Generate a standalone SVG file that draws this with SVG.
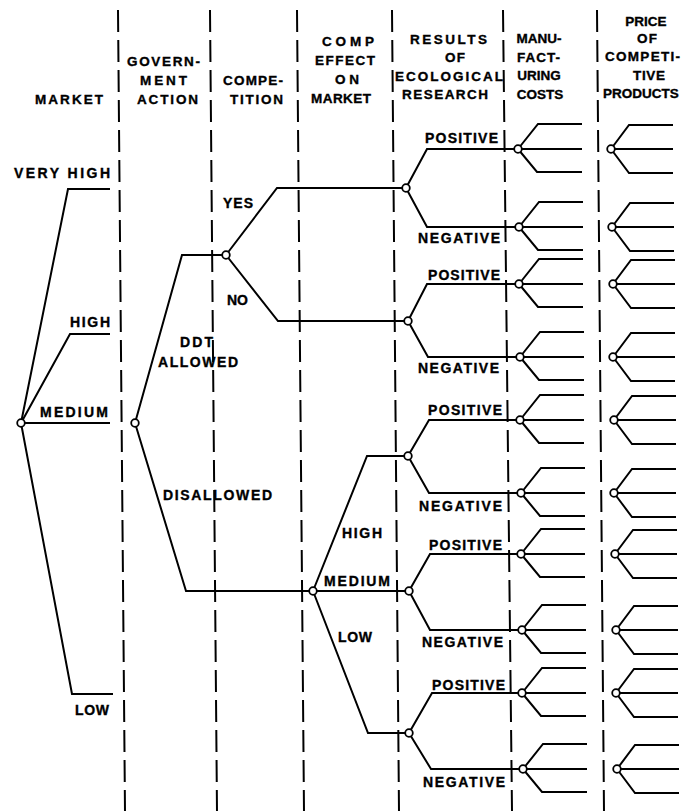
<svg xmlns="http://www.w3.org/2000/svg" width="695" height="811" viewBox="0 0 695 811">
<style>
.col line{stroke:#000;stroke-width:2;stroke-dasharray:22 8}
.edge path,.edge use{fill:none;stroke:#000;stroke-width:2;stroke-linejoin:miter}
.node circle{fill:#fff;stroke:#000;stroke-width:1.8}
text{font-family:"Liberation Sans",Arial,sans-serif;font-weight:bold;font-size:13.5px;fill:#000;stroke:#000;stroke-width:0.35}
.lbl text{font-size:14px}
.mid{text-anchor:middle}
</style>
<defs>
<path id="fanM" d="M0,0 L20,-25 H64 M0,0 H64 M0,0 L19,23 H64"/>
<path id="fanP" d="M0,0 L18,-24 H62 M0,0 H62 M0,0 L18,24 H62"/>
</defs>
<rect width="695" height="811" fill="#fff"/>
<g id="columns" class="col">
<line x1="118" y1="10" x2="125" y2="811"/>
<line x1="210" y1="10" x2="217" y2="811"/>
<line x1="297" y1="10" x2="304" y2="811"/>
<line x1="392" y1="10" x2="399" y2="811"/>
<line x1="503" y1="10" x2="512" y2="811"/>
<line x1="597" y1="10" x2="604" y2="811"/>
</g>
<g id="headers">
<text x="35" y="104" textLength="68" lengthAdjust="spacing">MARKET</text>
<text x="127" y="66" textLength="73" lengthAdjust="spacing">GOVERN-</text>
<text x="140" y="85" textLength="47" lengthAdjust="spacing">MENT</text>
<text x="137" y="104" textLength="61" lengthAdjust="spacing">ACTION</text>
<text x="223" y="85" textLength="60" lengthAdjust="spacing">COMPE-</text>
<text x="230" y="104" textLength="53" lengthAdjust="spacing">TITION</text>
<text x="322" y="46" textLength="52" lengthAdjust="spacing">COMP</text>
<text x="315" y="65" textLength="60" lengthAdjust="spacing">EFFECT</text>
<text x="335" y="84" textLength="24" lengthAdjust="spacing">ON</text>
<text x="311" y="103" textLength="60" lengthAdjust="spacing">MARKET</text>
<text x="410" y="44" textLength="77" lengthAdjust="spacing">RESULTS</text>
<text x="445" y="62" textLength="20" lengthAdjust="spacing">OF</text>
<text x="395" y="81" textLength="108" lengthAdjust="spacing">ECOLOGICAL</text>
<text x="402" y="99" textLength="86" lengthAdjust="spacing">RESEARCH</text>
<text class="mid" x="539" y="43">MANU-</text>
<text x="517" y="62" textLength="43" lengthAdjust="spacing">FACT-</text>
<text class="mid" x="539" y="80">URING</text>
<text class="mid" x="540" y="99">COSTS</text>
<text class="mid" x="646" y="26">PRICE</text>
<text x="637" y="43" textLength="20" lengthAdjust="spacing">OF</text>
<text x="605" y="61" textLength="75" lengthAdjust="spacing">COMPETI-</text>
<text x="633" y="80" textLength="32" lengthAdjust="spacing">TIVE</text>
<text class="mid" x="641" y="98">PRODUCTS</text>
</g>
<g id="connectors" class="edge">
<path d="M21,423 L68,189 H110"/>
<path d="M21,423 L70,334 H110"/>
<path d="M21,423 H110"/>
<path d="M21,423 L72,694 H113"/>
<path d="M135,423 L182,255 H226"/>
<path d="M135,423 L186,591 H313"/>
<path d="M226,255 L277,188 H406"/>
<path d="M226,255 L278,321 H408"/>
<path d="M313,591 L367,456 H408"/>
<path d="M313,591 H409"/>
<path d="M313,591 L368,733 H409"/>
<path d="M406,188 L427,149 H518"/>
<path d="M406,188 L427,227 H519"/>
<path d="M408,321 L427,284 H519"/>
<path d="M408,321 L428,357 H520"/>
<path d="M408,456 L429,420 H520"/>
<path d="M408,456 L429,493 H521"/>
<path d="M409,591 L430,554 H521"/>
<path d="M409,591 L430,630 H522"/>
<path d="M409,733 L432,693 H522"/>
<path d="M409,733 L431,769 H523"/>
<use href="#fanM" x="518" y="149"/>
<use href="#fanM" x="519" y="227"/>
<use href="#fanM" x="519" y="284"/>
<use href="#fanM" x="520" y="357"/>
<use href="#fanM" x="520" y="420"/>
<use href="#fanM" x="521" y="493"/>
<use href="#fanM" x="521" y="554"/>
<use href="#fanM" x="522" y="630"/>
<use href="#fanM" x="522" y="693"/>
<use href="#fanM" x="523" y="769"/>
<use href="#fanP" x="611" y="149"/>
<use href="#fanP" x="612" y="227"/>
<use href="#fanP" x="613" y="284"/>
<use href="#fanP" x="613" y="357"/>
<use href="#fanP" x="614" y="420"/>
<use href="#fanP" x="614" y="493"/>
<use href="#fanP" x="615" y="554"/>
<use href="#fanP" x="616" y="630"/>
<use href="#fanP" x="616" y="693"/>
<use href="#fanP" x="617" y="769"/>
</g>
<g id="labels" class="lbl">
<text x="14" y="178" textLength="96" lengthAdjust="spacing">VERY HIGH</text>
<text x="70" y="327" textLength="40" lengthAdjust="spacing">HIGH</text>
<text x="40" y="417" textLength="68" lengthAdjust="spacing">MEDIUM</text>
<text x="75" y="715" textLength="34" lengthAdjust="spacing">LOW</text>
<text x="180" y="347" textLength="33" lengthAdjust="spacing">DDT</text>
<text x="158" y="367" textLength="80" lengthAdjust="spacing">ALLOWED</text>
<text x="163" y="500" textLength="109" lengthAdjust="spacing">DISALLOWED</text>
<text x="223" y="208" textLength="30" lengthAdjust="spacing">YES</text>
<text x="227" y="305" textLength="21" lengthAdjust="spacing">NO</text>
<text x="342" y="538" textLength="40" lengthAdjust="spacing">HIGH</text>
<text x="324" y="586" textLength="66" lengthAdjust="spacing">MEDIUM</text>
<text x="338" y="642" textLength="34" lengthAdjust="spacing">LOW</text>
<text x="425" y="143" textLength="73" lengthAdjust="spacing">POSITIVE</text>
<text x="418" y="243" textLength="82" lengthAdjust="spacing">NEGATIVE</text>
<text x="428" y="280" textLength="72" lengthAdjust="spacing">POSITIVE</text>
<text x="418" y="373" textLength="81" lengthAdjust="spacing">NEGATIVE</text>
<text x="428" y="415" textLength="74" lengthAdjust="spacing">POSITIVE</text>
<text x="419" y="511" textLength="83" lengthAdjust="spacing">NEGATIVE</text>
<text x="429" y="550" textLength="73" lengthAdjust="spacing">POSITIVE</text>
<text x="422" y="647" textLength="81" lengthAdjust="spacing">NEGATIVE</text>
<text x="432" y="690" textLength="73" lengthAdjust="spacing">POSITIVE</text>
<text x="423" y="787" textLength="82" lengthAdjust="spacing">NEGATIVE</text>
</g>
<g id="node-market" class="node"><circle cx="21" cy="423" r="3.8"/></g>
<g id="node-government" class="node"><circle cx="135" cy="423" r="3.8"/></g>
<g id="node-competition" class="node"><circle cx="226" cy="255" r="3.8"/></g>
<g id="node-comp-effect" class="node"><circle cx="313" cy="591" r="3.8"/></g>
<g id="node-eco-1" class="node"><circle cx="406" cy="188" r="3.8"/></g>
<g id="node-eco-2" class="node"><circle cx="408" cy="321" r="3.8"/></g>
<g id="node-eco-3" class="node"><circle cx="408" cy="456" r="3.8"/></g>
<g id="node-eco-4" class="node"><circle cx="409" cy="591" r="3.8"/></g>
<g id="node-eco-5" class="node"><circle cx="409" cy="733" r="3.8"/></g>
<g id="node-mfg-1" class="node"><circle cx="518" cy="149" r="3.8"/></g>
<g id="node-mfg-2" class="node"><circle cx="519" cy="227" r="3.8"/></g>
<g id="node-mfg-3" class="node"><circle cx="519" cy="284" r="3.8"/></g>
<g id="node-mfg-4" class="node"><circle cx="520" cy="357" r="3.8"/></g>
<g id="node-mfg-5" class="node"><circle cx="520" cy="420" r="3.8"/></g>
<g id="node-mfg-6" class="node"><circle cx="521" cy="493" r="3.8"/></g>
<g id="node-mfg-7" class="node"><circle cx="521" cy="554" r="3.8"/></g>
<g id="node-mfg-8" class="node"><circle cx="522" cy="630" r="3.8"/></g>
<g id="node-mfg-9" class="node"><circle cx="522" cy="693" r="3.8"/></g>
<g id="node-mfg-10" class="node"><circle cx="523" cy="769" r="3.8"/></g>
<g id="node-price-1" class="node"><circle cx="611" cy="149" r="3.8"/></g>
<g id="node-price-2" class="node"><circle cx="612" cy="227" r="3.8"/></g>
<g id="node-price-3" class="node"><circle cx="613" cy="284" r="3.8"/></g>
<g id="node-price-4" class="node"><circle cx="613" cy="357" r="3.8"/></g>
<g id="node-price-5" class="node"><circle cx="614" cy="420" r="3.8"/></g>
<g id="node-price-6" class="node"><circle cx="614" cy="493" r="3.8"/></g>
<g id="node-price-7" class="node"><circle cx="615" cy="554" r="3.8"/></g>
<g id="node-price-8" class="node"><circle cx="616" cy="630" r="3.8"/></g>
<g id="node-price-9" class="node"><circle cx="616" cy="693" r="3.8"/></g>
<g id="node-price-10" class="node"><circle cx="617" cy="769" r="3.8"/></g>
</svg>
